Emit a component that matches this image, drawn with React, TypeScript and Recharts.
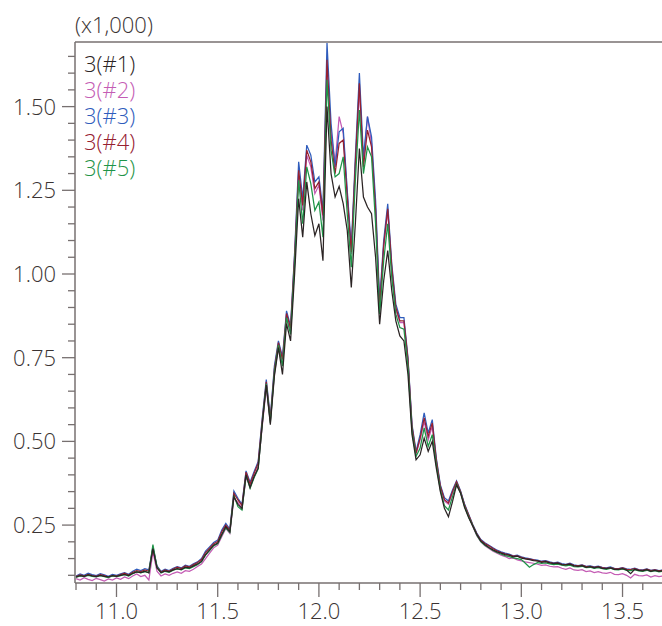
import { LineChart, Line, XAxis, YAxis, Legend, ReferenceLine } from "recharts"

// retention time (min)
const X_VALUES = [
  10.80, 10.82, 10.84, 10.86, 10.88, 10.90, 10.92, 10.94, 10.96, 10.98,
  11.00, 11.02, 11.04, 11.06, 11.08, 11.10, 11.12, 11.14, 11.16, 11.18,
  11.20, 11.22, 11.24, 11.26, 11.28, 11.30, 11.32, 11.34, 11.36, 11.38,
  11.40, 11.42, 11.44, 11.46, 11.48, 11.50, 11.52, 11.54, 11.56, 11.58,
  11.60, 11.62, 11.64, 11.66, 11.68, 11.70, 11.72, 11.74, 11.76, 11.78,
  11.80, 11.82, 11.84, 11.86, 11.88, 11.90, 11.92, 11.94, 11.96, 11.98,
  12.00, 12.02, 12.04, 12.06, 12.08, 12.10, 12.12, 12.14, 12.16, 12.18,
  12.20, 12.22, 12.24, 12.26, 12.28, 12.30, 12.32, 12.34, 12.36, 12.38,
  12.40, 12.42, 12.44, 12.46, 12.48, 12.50, 12.52, 12.54, 12.56, 12.58,
  12.60, 12.62, 12.64, 12.66, 12.68, 12.70, 12.72, 12.74, 12.76, 12.78,
  12.80, 12.82, 12.84, 12.86, 12.88, 12.90, 12.92, 12.94, 12.96, 12.98,
  13.00, 13.02, 13.04, 13.06, 13.08, 13.10, 13.12, 13.14, 13.16, 13.18,
  13.20, 13.22, 13.24, 13.26, 13.28, 13.30, 13.32, 13.34, 13.36, 13.38,
  13.40, 13.42, 13.44, 13.46, 13.48, 13.50, 13.52, 13.54, 13.56, 13.58,
  13.60, 13.62, 13.64, 13.66, 13.68, 13.70,
]

// intensities, raw counts (axis shows x1,000)
const RUN_1 = [
  95, 99, 97, 101, 98, 96, 100, 97, 95, 99,
  97, 100, 103, 99, 106, 110, 108, 112, 107, 180, 122,
  108, 113, 110, 116, 120, 117, 124, 122, 128,
  134, 142, 162, 176, 190, 196, 222, 245, 230,
  335, 312, 300, 400, 362, 395, 420,
  550, 668, 550, 695, 780, 700, 852, 800,
  1000, 1225, 1110, 1275, 1180, 1115, 1150, 1040,
  1500, 1300, 1230, 1262, 1210, 1130, 960, 1150,
  1375, 1230, 1200, 1180, 1050, 850, 980, 1070,
  950, 860, 815, 800, 700, 520, 445, 460,
  510, 470, 500, 420, 350, 300, 275, 320,
  370, 345, 302, 272, 247, 222, 202, 192, 183, 176, 170,
  166, 162, 160, 155, 157, 151, 149, 147, 144, 143,
  139, 141, 137, 135, 136, 132, 131, 133, 128, 127,
  129, 124, 126, 122, 125, 121, 120, 122, 118, 118,
  120, 116, 105, 118, 115, 113, 117, 112, 115, 112, 114,
]

const RUN_2 = [
  90, 86, 93, 88, 84, 91, 87, 83, 89, 86,
  92, 88, 95, 90, 98, 104, 96, 100, 86, 170, 112,
  98, 104, 100, 106, 110, 106, 114, 112, 118,
  126, 134, 150, 166, 182, 190, 215, 240, 225,
  330, 318, 300, 392, 368, 395, 425,
  545, 660, 560, 700, 782, 735, 870, 830,
  1040, 1290, 1190, 1355, 1320, 1240, 1265, 1160,
  1600, 1420, 1330, 1470, 1420, 1240, 1060, 1320,
  1550, 1330, 1470, 1390, 1200, 900, 1080, 1190,
  1010, 895, 855, 855, 740, 540, 462, 505,
  560, 505, 545, 440, 362, 322, 312, 345,
  375, 348, 308, 276, 246, 218, 200, 188, 180, 172, 166,
  160, 156, 150, 152, 146, 143, 140, 138, 136, 133,
  130, 131, 127, 125, 126, 121, 118, 122, 116, 115,
  117, 111, 113, 108, 111, 107, 106, 109, 103, 102,
  105, 100, 92, 103, 99, 98, 101, 95, 99, 96, 98,
]

const RUN_3 = [
  98, 104, 100, 106, 102, 99, 105, 101, 97, 103,
  100, 104, 108, 103, 112, 118, 114, 120, 116, 185, 128,
  112, 118, 114, 121, 126, 122, 130, 127, 134,
  140, 150, 172, 185, 198, 205, 235, 255, 238,
  352, 330, 312, 412, 378, 410, 440,
  570, 685, 572, 725, 800, 752, 890, 845,
  1065, 1335, 1225, 1385, 1355, 1275, 1290, 1190,
  1690, 1450, 1320, 1425, 1435, 1250, 1080, 1350,
  1600, 1350, 1470, 1410, 1220, 920, 1100, 1210,
  1030, 910, 870, 870, 750, 550, 470, 520,
  585, 525, 565, 450, 370, 332, 322, 355,
  382, 352, 312, 282, 252, 226, 207, 197, 190, 182, 175,
  170, 166, 163, 158, 160, 155, 152, 150, 147, 145,
  142, 144, 140, 137, 139, 135, 133, 136, 131, 129,
  131, 127, 128, 125, 127, 124, 122, 125, 121, 120,
  123, 119, 118, 121, 117, 116, 119, 115, 117, 114, 116,
]

const RUN_4 = [
  96, 101, 98, 103, 99, 97, 102, 99, 95, 100,
  98, 102, 106, 101, 109, 114, 111, 116, 112, 182, 125,
  110, 116, 112, 119, 124, 120, 128, 125, 132,
  138, 147, 168, 181, 194, 201, 230, 250, 234,
  345, 325, 308, 408, 373, 405, 435,
  562, 678, 565, 715, 795, 745, 882, 838,
  1055, 1310, 1205, 1370, 1335, 1255, 1275, 1175,
  1640, 1400, 1300, 1390, 1400, 1230, 1065, 1330,
  1570, 1320, 1430, 1380, 1190, 900, 1085, 1195,
  1020, 900, 860, 860, 745, 545, 465, 510,
  570, 515, 555, 445, 366, 326, 316, 350,
  380, 350, 310, 280, 250, 224, 205, 195, 188, 180, 173,
  168, 164, 161, 157, 158, 154, 150, 148, 146, 143,
  141, 142, 138, 136, 137, 133, 132, 134, 130, 128,
  130, 126, 127, 124, 126, 123, 121, 123, 120, 119,
  122, 118, 117, 120, 116, 115, 118, 114, 116, 113, 115,
]

const RUN_5 = [
  94, 98, 96, 100, 97, 95, 99, 96, 93, 98,
  96, 99, 102, 98, 105, 110, 107, 111, 108, 192, 124,
  107, 112, 109, 115, 119, 116, 122, 120, 126,
  132, 140, 160, 174, 188, 194, 220, 242, 228,
  338, 305, 295, 398, 360, 392, 418,
  552, 672, 555, 705, 788, 725, 870, 820,
  1030, 1280, 1150, 1320, 1270, 1190, 1215, 1110,
  1580, 1370, 1290, 1300, 1350, 1180, 1020, 1280,
  1490, 1300, 1380, 1350, 1150, 880, 1040, 1150,
  990, 880, 840, 835, 725, 530, 455, 480,
  540, 485, 520, 430, 355, 308, 295, 335,
  372, 346, 305, 274, 248, 220, 201, 190, 182, 174, 168,
  163, 159, 156, 152, 150, 147, 136, 124, 132, 138,
  136, 137, 134, 132, 133, 130, 128, 130, 126, 125,
  127, 123, 124, 121, 123, 120, 118, 121, 117, 116,
  119, 115, 114, 117, 113, 112, 115, 111, 114, 110, 112,
]

const SERIES_NAMES = ["3(#1)", "3(#2)", "3(#3)", "3(#4)", "3(#5)"]
const SERIES_COLORS = ["#2b2424", "#c45cb4", "#2f5cbc", "#962030", "#1f9448"]

const X_TICKS = [
  10.8, 10.9, 11.0, 11.1, 11.2, 11.3, 11.4, 11.5, 11.6, 11.7,
  11.8, 11.9, 12.0, 12.1, 12.2, 12.3, 12.4, 12.5, 12.6, 12.7,
  12.8, 12.9, 13.0, 13.1, 13.2, 13.3, 13.4, 13.5, 13.6,
]
const X_LABELS = [11.0, 11.5, 12.0, 12.5, 13.0, 13.5]

const Y_TICKS = [
  100, 150, 200, 250, 300, 350, 400, 450, 500, 550, 600, 650, 700, 750, 800,
  850, 900, 950, 1000, 1050, 1100, 1150, 1200, 1250, 1300, 1350, 1400, 1450,
  1500, 1550, 1600, 1650,
]
const Y_LABELS = [250, 500, 750, 1000, 1250, 1500]

const X_MIN = 10.795
const X_MAX = 13.695
const Y_MIN = 77
const Y_MAX = 1693

const FONT = '"Open Sans", sans-serif'
const TEXT = "#3a3333"
const AXIS = "#777070"

const runs = [RUN_1, RUN_2, RUN_3, RUN_4, RUN_5]
const data = X_VALUES.map((x, i) => {
  const row: Record<string, number> = { x }
  runs.forEach((r, k) => { row["s" + k] = r[i] })
  return row
})

function XTick(props: any) {
  const { x, y, payload } = props
  const major = X_LABELS.some((v) => Math.abs(v - payload.value) < 1e-6)
  return (
    <g>
      <line x1={x} x2={x} y1={y} y2={y + (major ? 14 : 7)} stroke={AXIS} strokeWidth={1.3} />
      {major && (
        <text x={x} y={y + 36} textAnchor="middle" fill={TEXT} fontSize={22} fontFamily={FONT} fontWeight={300}>
          {payload.value.toFixed(1)}
        </text>
      )}
    </g>
  )
}

function YTick(props: any) {
  const { x, y, payload } = props
  const major = Y_LABELS.includes(payload.value)
  return (
    <g>
      <line x1={x - (major ? 13 : 7)} x2={x} y1={y} y2={y} stroke={AXIS} strokeWidth={1.3} />
      {major && (
        <text x={x - 19} y={y + 8} textAnchor="end" fill={TEXT} fontSize={22} fontFamily={FONT} fontWeight={300}>
          {(payload.value / 1000).toFixed(2)}
        </text>
      )}
    </g>
  )
}

function LegendBox() {
  return (
    <div style={{ fontFamily: FONT, fontWeight: 300, fontSize: 22, lineHeight: "26px" }}>
      {SERIES_NAMES.map((n, i) => (
        <div key={n} style={{ color: SERIES_COLORS[i], whiteSpace: "nowrap", height: 26 }}>{n}</div>
      ))}
    </div>
  )
}

export default function App() {
  return (
    <div style={{ position: "absolute", left: 0, top: 0, width: 662, height: 626, background: "#fff" }}>
      <div style={{ position: "absolute", left: 75, top: 9, fontFamily: FONT, fontWeight: 300, fontSize: 22, color: TEXT, whiteSpace: "nowrap" }}>
        (x1,000)
      </div>
      <LineChart width={662} height={626} data={data} margin={{ top: 42, right: 0, bottom: 0, left: 0 }}>
        <XAxis
          dataKey="x"
          type="number"
          domain={[X_MIN, X_MAX]}
          allowDataOverflow
          ticks={X_TICKS}
          interval={0}
          height={43}
          tickLine={false}
          tickSize={0}
          tickMargin={0}
          tick={<XTick />}
          axisLine={{ stroke: AXIS, strokeWidth: 1.5 }}
        />
        <YAxis
          type="number"
          domain={[Y_MIN, Y_MAX]}
          allowDataOverflow
          ticks={Y_TICKS}
          interval={0}
          width={75}
          tickLine={false}
          tickSize={0}
          tickMargin={0}
          tick={<YTick />}
          axisLine={{ stroke: AXIS, strokeWidth: 1.5 }}
        />
        <ReferenceLine y={Y_MAX} stroke={AXIS} strokeWidth={1.5} />
        <Legend
          layout="vertical"
          align="center"
          verticalAlign="middle"
          content={<LegendBox />}
          wrapperStyle={{ top: 50, left: 84, width: "auto", height: "auto" }}
        />
        {[1, 2, 3, 4, 0].map((k) => (
          <Line
            key={k}
            type="linear"
            dataKey={"s" + k}
            name={SERIES_NAMES[k]}
            stroke={SERIES_COLORS[k]}
            strokeWidth={1.25}
            dot={false}
            isAnimationActive={false}
          />
        ))}
      </LineChart>
    </div>
  )
}
